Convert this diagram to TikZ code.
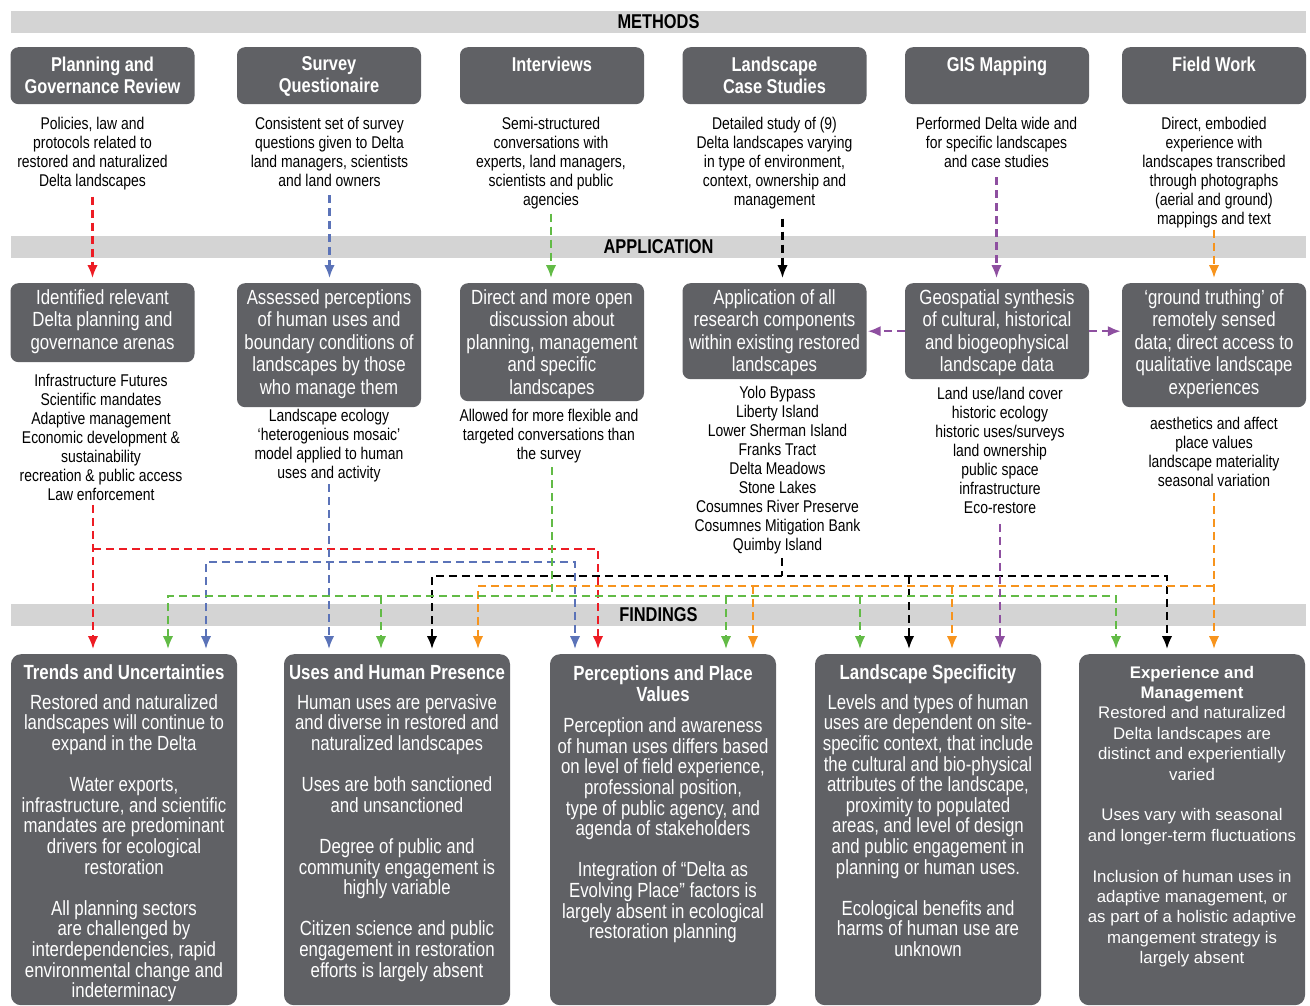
\documentclass[tikz,border=0pt]{standalone}
\usepackage{fontspec}
\setmainfont{Liberation Sans}
\newfontfamily\narrowsans[FakeStretch=0.82]{Liberation Sans}
\usetikzlibrary{arrows.meta, positioning}
\definecolor{boxgray}{RGB}{96,97,101}
\definecolor{bandgray}{RGB}{212,212,212}
\definecolor{lred}{RGB}{237,28,36}
\definecolor{lblue}{RGB}{91,115,184}
\definecolor{lgreen}{RGB}{98,187,70}
\definecolor{lorange}{RGB}{247,148,29}
\definecolor{lpurple}{RGB}{142,79,160}
\newcommand*{\fsz}[2]{\fontsize{#1}{#2}\selectfont}

\begin{document}
\begin{tikzpicture}[x=1pt, y=-1pt, >={Latex[length=13pt, width=10.5pt]},
		band/.style={fill=bandgray, minimum width=1295, minimum height=22, inner sep=0, font=\narrowsans\bfseries\fsz{20}{22}},
		box/.style={fill=boxgray, rounded corners=8pt, anchor=north, inner sep=0, minimum width=184},
		mtitle/.style={anchor=north, inner sep=0, align=center, text=white, font=\narrowsans\bfseries\fsz{20}{22}},
		apptext/.style={anchor=north, inner sep=0, align=center, text=white, font=\narrowsans\fsz{20.5}{22.5}},
		note/.style={anchor=north, inner sep=0, align=center, font=\narrowsans\fsz{17}{19}},
		ftitle/.style={anchor=north, inner sep=0, align=center, text=white, font=\narrowsans\bfseries\fsz{20.5}{21}},
		ftext/.style={anchor=north, inner sep=0, align=center, text=white, font=\narrowsans\fsz{20.5}{20.6}},
		link/.style={line width=2.2pt, dash pattern=on 8pt off 5pt},
		arr/.style={->, shorten >=5pt},
		arrs/.style={<->, shorten >=5pt, shorten <=5pt}]
	\useasboundingbox (0,0) rectangle (1310,1006);
	\node[band] (methods) at (658.5,22) {METHODS};
	\node[band] (application) at (658.5,247) {APPLICATION};
	\node[band] (findings) at (658.5,614.5) {FINDINGS};

	\node[box, minimum height=57] (m1) at (102.5,47) {};
	\node[box, minimum height=57] (m2) at (329,47) {};
	\node[box, minimum height=57] (m3) at (552,47) {};
	\node[box, minimum height=57] (m4) at (774.5,47) {};
	\node[box, minimum height=57] (m5) at (997,47) {};
	\node[box, minimum height=57] (m6) at (1214,47) {};
	\node[mtitle, below=9.8pt of m1.north] (m1t) {Planning and\\Governance Review};
	\node[mtitle, below=9.8pt of m2.north] (m2t) {Survey\\Questionaire};
	\node[mtitle, below=9.8pt of m3.north] (m3t) {Interviews};
	\node[mtitle, below=9.8pt of m4.north] (m4t) {Landscape\\Case Studies};
	\node[mtitle, below=9.8pt of m5.north] (m5t) {GIS Mapping};
	\node[mtitle, below=9.8pt of m6.north] (m6t) {Field Work};

	\node[note] (d1) at (92.5,117.4) {Policies, law and\\protocols related to\\restored and naturalized\\Delta landscapes};
	\node[note] (d2) at (329.5,117.4) {Consistent set of survey\\questions given to Delta\\land managers, scientists\\and land owners};
	\node[note] (d3) at (551,117.4) {Semi-structured\\conversations with\\experts, land managers,\\scientists and public\\agencies};
	\node[note] (d4) at (774.5,117.4) {Detailed study of (9)\\Delta landscapes varying\\in type of environment,\\context, ownership and\\management};
	\node[note] (d5) at (996.5,117.4) {Performed Delta wide and\\for specific landscapes\\and case studies};
	\node[note] (d6) at (1214,117.4) {Direct, embodied\\experience with\\landscapes transcribed\\through photographs\\(aerial and ground)\\mappings and text};

	\node[box, minimum height=79] (a1) at (102.5,283) {};
	\node[box, minimum height=124] (a2) at (329,283) {};
	\node[box, minimum height=118] (a3) at (552,283) {};
	\node[box, minimum height=96] (a4) at (774.5,283) {};
	\node[box, minimum height=96] (a5) at (997,283) {};
	\node[box, minimum height=124] (a6) at (1214,283) {};
	\node[apptext, below=6pt of a1.north] (a1t) {Identified relevant\\Delta planning and\\governance arenas};
	\node[apptext, below=6pt of a2.north] (a2t) {Assessed perceptions\\of human uses and\\boundary conditions of\\landscapes by those\\who manage them};
	\node[apptext, below=6pt of a3.north] (a3t) {Direct and more open\\discussion about\\planning, management\\and specific\\landscapes};
	\node[apptext, below=6pt of a4.north] (a4t) {Application of all\\research components\\within existing restored\\landscapes};
	\node[apptext, below=6pt of a5.north] (a5t) {Geospatial synthesis\\of cultural, historical\\and biogeophysical\\landscape data};
	\node[apptext, below=6pt of a6.north] (a6t) {‘ground truthing’ of\\remotely sensed\\data; direct access to\\qualitative landscape\\experiences};

	\node[note] (l1) at (101,374) {Infrastructure Futures\\Scientific mandates\\Adaptive management\\Economic development \&\\sustainability\\recreation \& public access\\Law enforcement};
	\node[note] (l2) at (329,409) {Landscape ecology\\‘heterogenious mosaic’\\model applied to human\\uses and activity};
	\node[note] (l3) at (549,409) {Allowed for more flexible and\\targeted conversations than\\the survey};
	\node[note] (l4) at (777.5,385.6) {Yolo Bypass\\Liberty Island\\Lower Sherman Island\\Franks Tract\\Delta Meadows\\Stone Lakes\\Cosumnes River Preserve\\Cosumnes Mitigation Bank\\Quimby Island};
	\node[note] (l5) at (1000,387) {Land use/land cover\\historic ecology\\historic uses/surveys\\land ownership\\public space\\infrastructure\\Eco-restore};
	\node[note] (l6) at (1214,417) {aesthetics and affect\\place values\\landscape materiality\\seasonal variation};

	\node[box, minimum width=226, minimum height=351, rounded corners=10pt] (f1) at (124,654) {};
	\node[box, minimum width=226, minimum height=351, rounded corners=10pt] (f2) at (397,654) {};
	\node[box, minimum width=226, minimum height=351, rounded corners=10pt] (f3) at (663,654) {};
	\node[box, minimum width=226, minimum height=351, rounded corners=10pt] (f4) at (928,654) {};
	\node[box, minimum width=226, minimum height=351, rounded corners=10pt] (f5) at (1192,654) {};
	\node[ftitle, below=10.3pt of f1.north] (f1t) {Trends and Uncertainties};
	\node[ftext, below=40.3pt of f1.north] (f1b) {Restored and naturalized\\landscapes will continue to\\expand in the Delta\\[20.6pt]Water exports,\\infrastructure, and scientific\\mandates are predominant\\drivers for ecological\\restoration\\[20.6pt]All planning sectors\\are challenged by\\interdependencies, rapid\\environmental change and\\indeterminacy};
	\node[ftitle, below=10.3pt of f2.north] (f2t) {Uses and Human Presence};
	\node[ftext, below=40.3pt of f2.north] (f2b) {Human uses are pervasive\\and diverse in restored and\\naturalized landscapes\\[20.6pt]Uses are both sanctioned\\and unsanctioned\\[20.6pt]Degree of public and\\community engagement is\\highly variable\\[20.6pt]Citizen science and public\\engagement in restoration\\efforts is largely absent};
	\node[ftitle, below=11.6pt of f3.north] (f3t) {Perceptions and Place\\Values};
	\node[ftext, below=63.6pt of f3.north] (f3b) {Perception and awareness\\of human uses differs based\\on level of field experience,\\professional position,\\type of public agency, and\\agenda of stakeholders\\[20.6pt]Integration of “Delta as\\Evolving Place” factors is\\largely absent in ecological\\restoration planning};
	\node[ftitle, below=10.3pt of f4.north] (f4t) {Landscape Specificity};
	\node[ftext, below=40.3pt of f4.north] (f4b) {Levels and types of human\\uses are dependent on site-\\specific context, that include\\the cultural and bio-physical\\attributes of the landscape,\\proximity to populated\\areas, and level of design\\and public engagement in\\planning or human uses.\\[20.6pt]Ecological benefits and\\harms of human use are\\unknown};
	\node[anchor=north, inner sep=0, align=center, text=white, font=\fsz{16.8}{20.4}, below=11.7pt of f5.north] (f5b) {\textbf{Experience and}\\\textbf{Management}\\Restored and naturalized\\Delta landscapes are\\distinct and experientially\\varied\\[20.4pt]Uses vary with seasonal\\and longer-term fluctuations\\[20.4pt]Inclusion of human uses in\\adaptive management, or\\as part of a holistic adaptive\\mangement strategy is\\largely absent};

	\draw[link, lred, arr, shorten <=6pt] (d1.south) -- (d1.south |- a1.north);
	\draw[link, lblue, arr, shorten <=8pt] (d2.south) -- (d2.south |- a2.north);
	\draw[link, lgreen, arr, shorten <=4pt] (d3.south) -- (d3.south |- a3.north);
	\draw[link, black, arr, shorten <=9pt] ([xshift=8]d4.south) -- ([xshift=8]d4.south |- a4.north);
	\draw[link, lpurple, arr, shorten <=9pt] (d5.south) -- (d5.south |- a5.north);
	\draw[link, lorange, arr, shorten <=1pt] (d6.south) -- (d6.south |- a6.north);
	\draw[link, lpurple, ->, shorten >=1pt] (a5.west) -- (a4.east);
	\draw[link, lpurple, ->, shorten >=1pt] (a5.east) -- (a5.east -| a6.west);

	\coordinate (rA) at (93,549);
	\coordinate (rB) at (598,549);
	\coordinate (bA) at (206,562);
	\coordinate (bB) at (575,562);
	\coordinate (kA) at (432,576);
	\coordinate (kB) at (909,576);
	\coordinate (kC) at (1167,576);
	\coordinate (oA) at (478,586);
	\coordinate (oB) at (753,586);
	\coordinate (oC) at (952,586);
	\coordinate (oD) at (1214,586);
	\coordinate (gA) at (168,596);
	\coordinate (gB) at (381,596);
	\coordinate (gC) at (726,596);
	\coordinate (gD) at (860,596);
	\coordinate (gE) at (1116,596);

	\draw[link, lred, arr, shorten <=4pt] (l1.south -| rA) -- (f1.north -| rA);
	\draw[link, lred, arr] (rA) -- (rB) -- (f3.north -| rB);
	\draw[link, lblue, arr, shorten <=2pt] (l2.south) -- (f2.north -| l2.south);
	\draw[link, lblue, arrs] (f1.north -| bA) -- (bA) -- (bB) -- (f3.north -| bB);
	\draw[link, black, shorten <=4pt] ([xshift=4.5]l4.south) -- ([xshift=4.5]l4.south |- kA);
	\draw[link, black, arrs] (f2.north -| kA) -- (kA) -- (kC) -- (f5.north -| kC);
	\draw[link, black, arr] (kB) -- (f4.north -| kB);
	\draw[link, lorange, arr, shorten <=6pt] (l6.south) -- (f5.north -| l6.south);
	\draw[link, lorange, arr] (oD) -- (oA) -- (f2.north -| oA);
	\draw[link, lorange, arr] (oB) -- (f3.north -| oB);
	\draw[link, lorange, arr] (oC) -- (f4.north -| oC);
	\draw[link, lgreen, shorten <=4pt] ([xshift=3]l3.south) -- ([xshift=3]l3.south |- gA);
	\draw[link, lgreen, arrs] (f1.north -| gA) -- (gA) -- (gE) -- (f5.north -| gE);
	\draw[link, lgreen, arr] (gB) -- (f2.north -| gB);
	\draw[link, lgreen, arr] (gC) -- (f3.north -| gC);
	\draw[link, lgreen, arr] (gD) -- (f4.north -| gD);
	\draw[link, lpurple, arr, shorten <=10pt] (l5.south) -- (f4.north -| l5.south);
\end{tikzpicture}
\end{document}
